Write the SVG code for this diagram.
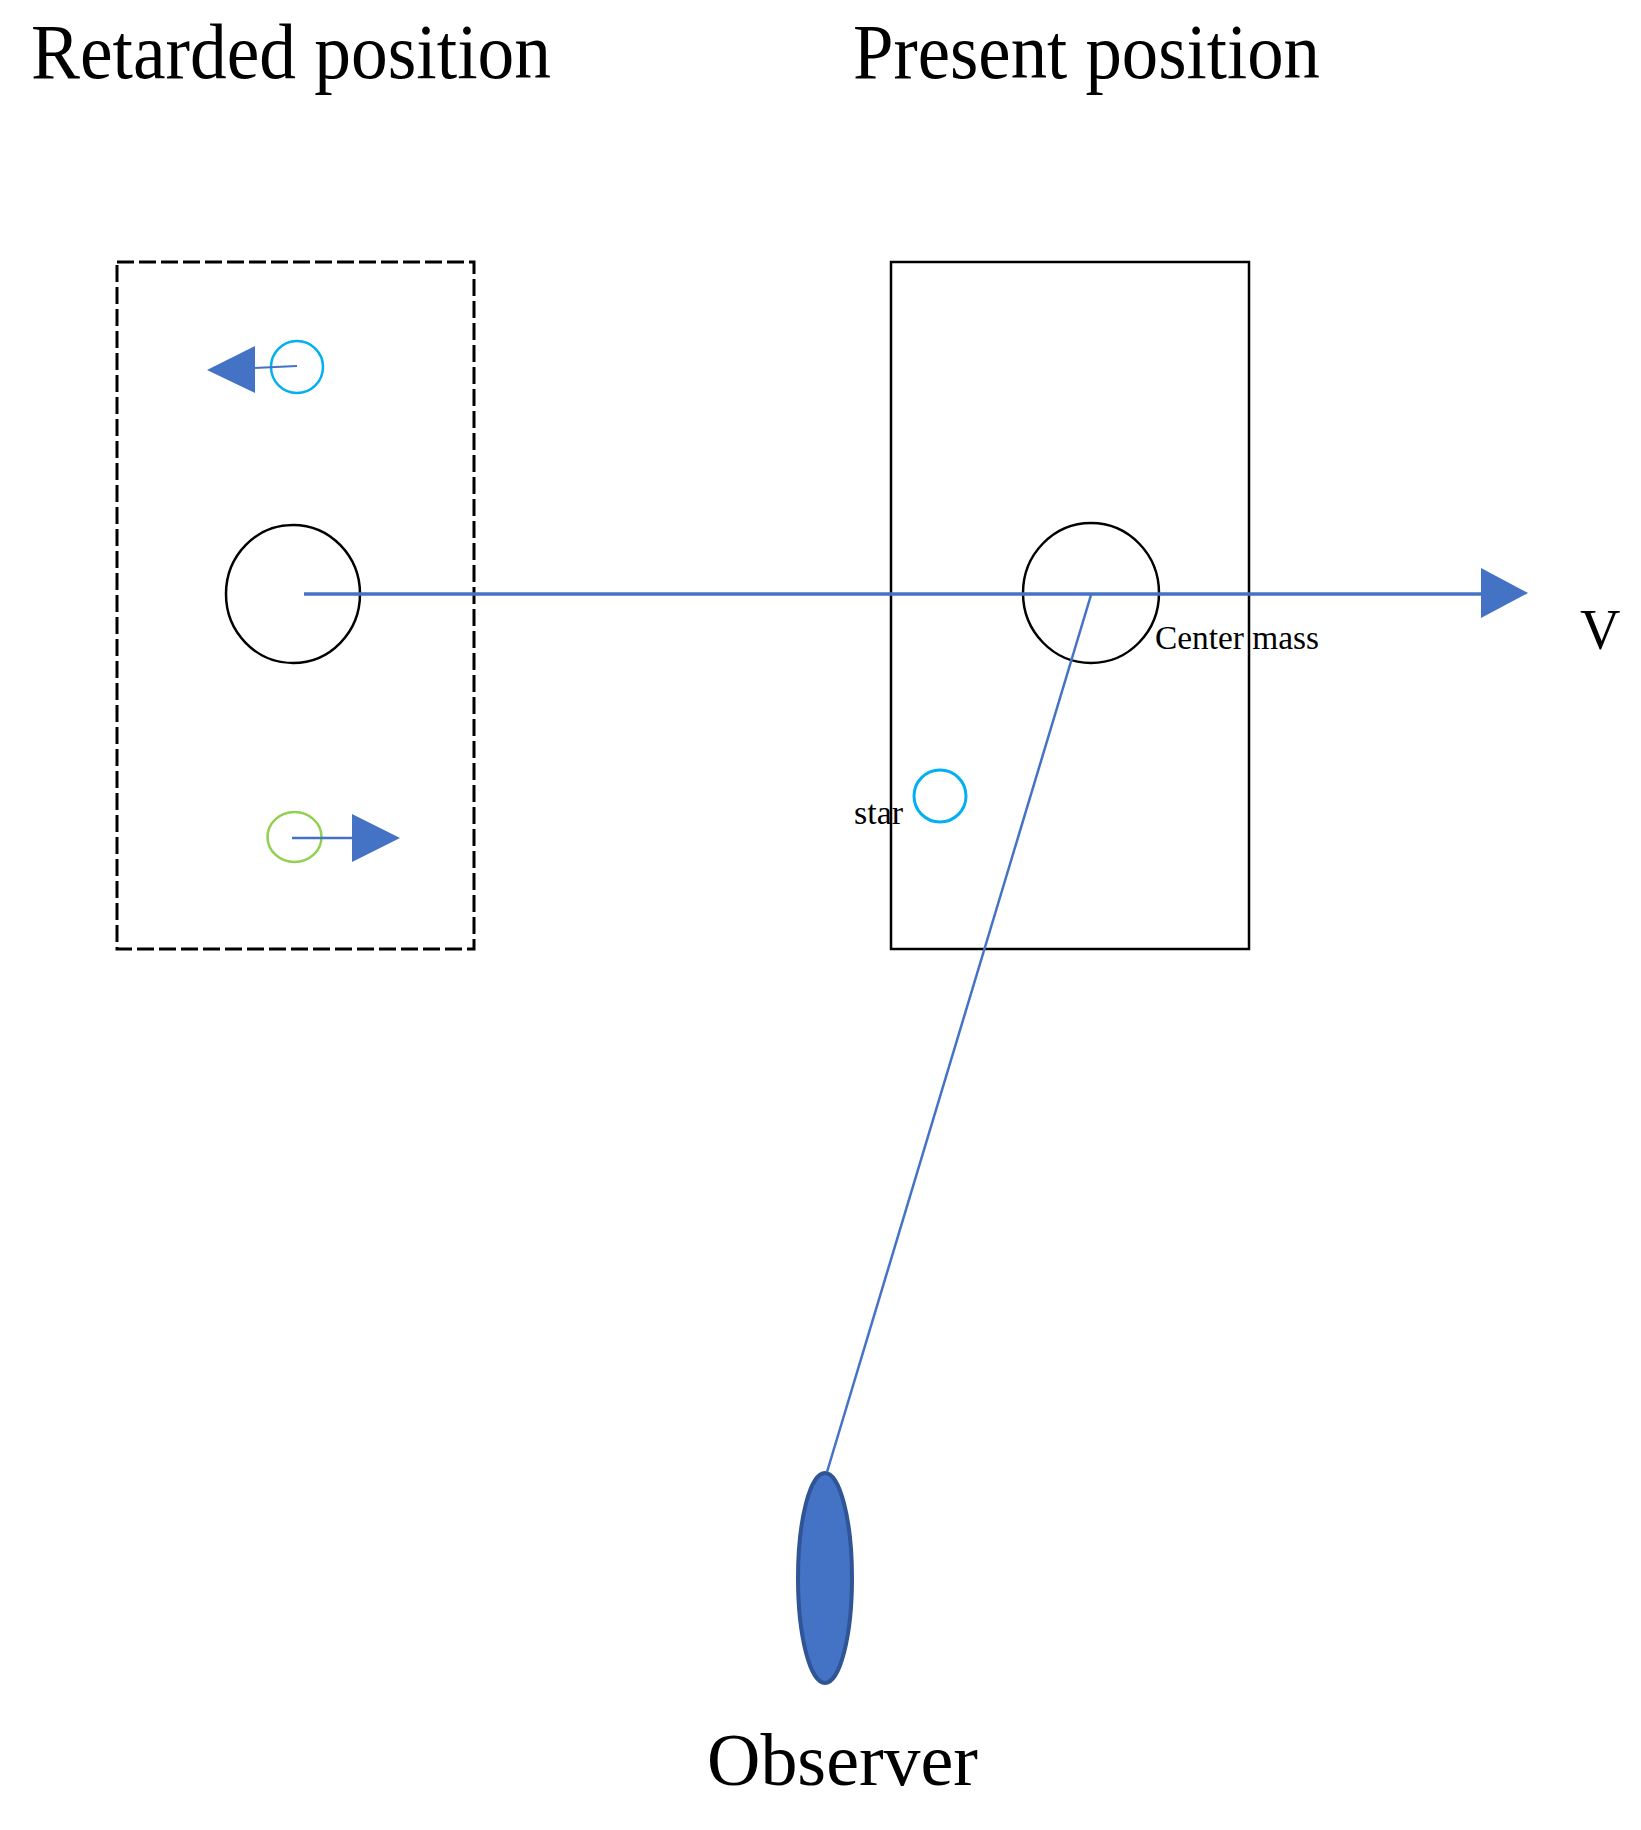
<svg xmlns="http://www.w3.org/2000/svg" width="1641" height="1830" viewBox="0 0 1641 1830">
<defs>
<style>
.title{font-family:"Liberation Serif","Times New Roman",serif;font-size:78px;fill:#000}
.small{font-family:"Liberation Serif","Times New Roman",serif;font-size:34px;fill:#000}
.big{font-family:"Liberation Serif","Times New Roman",serif;font-size:74px;fill:#000}
.blue{stroke:#4472C4;fill:none}
.tri{fill:#4472C4;stroke:none}
</style>
</defs>
<rect width="1641" height="1830" fill="#fff"/>
<g id="title-retarded"><text class="title" x="31" y="78" textLength="520" lengthAdjust="spacingAndGlyphs">Retarded position</text></g>
<g id="title-present"><text class="title" x="853" y="78" textLength="467" lengthAdjust="spacingAndGlyphs">Present position</text></g>
<g id="retarded-box"><rect x="117" y="262" width="357" height="687" fill="none" stroke="#000" stroke-width="3" stroke-dasharray="17,5"/></g>
<g id="present-box"><rect x="891" y="262" width="358" height="687" fill="none" stroke="#000" stroke-width="2.5"/></g>
<g id="retarded-mass"><ellipse cx="293" cy="594" rx="67" ry="69" fill="none" stroke="#000" stroke-width="2.5"/></g>
<g id="present-mass"><ellipse cx="1091" cy="593" rx="68" ry="70" fill="none" stroke="#000" stroke-width="2.5"/></g>
<g id="star-top"><circle cx="297" cy="367" r="26" fill="none" stroke="#00B0F0" stroke-width="2.5"/></g>
<g id="star-bottom"><ellipse cx="294.5" cy="837" rx="27" ry="25" fill="none" stroke="#92D050" stroke-width="2.5"/></g>
<g id="star-present"><circle cx="940" cy="796" r="26" fill="none" stroke="#00B0F0" stroke-width="3"/></g>
<g id="observer"><ellipse cx="825" cy="1578" rx="27" ry="105" fill="#4472C4" stroke="#2F5597" stroke-width="4"/></g>
<g id="connectors">
<line class="blue" x1="304" y1="594" x2="1484" y2="594" stroke-width="3.5"/>
<polygon class="tri" points="1481,568 1528,593 1481,618"/>
<line class="blue" x1="297" y1="366" x2="254" y2="368" stroke-width="2"/>
<polygon class="tri" points="255,346 207,370 255,393"/>
<line class="blue" x1="292" y1="838" x2="355" y2="838" stroke-width="2.5"/>
<polygon class="tri" points="352,814 400,838 352,862"/>
<line class="blue" x1="1091" y1="595" x2="827" y2="1472" stroke-width="2.5"/>
</g>
<g id="labels">
<text class="small" x="1155" y="649" textLength="164" lengthAdjust="spacingAndGlyphs">Center mass</text>
<text class="small" x="854" y="824" textLength="49" lengthAdjust="spacingAndGlyphs">star</text>
<text x="1580" y="649" style="font-family:'Liberation Serif','Times New Roman',serif;font-size:56px">V</text>
<text class="big" x="707" y="1785" textLength="271" lengthAdjust="spacingAndGlyphs">Observer</text>
</g>
</svg>
